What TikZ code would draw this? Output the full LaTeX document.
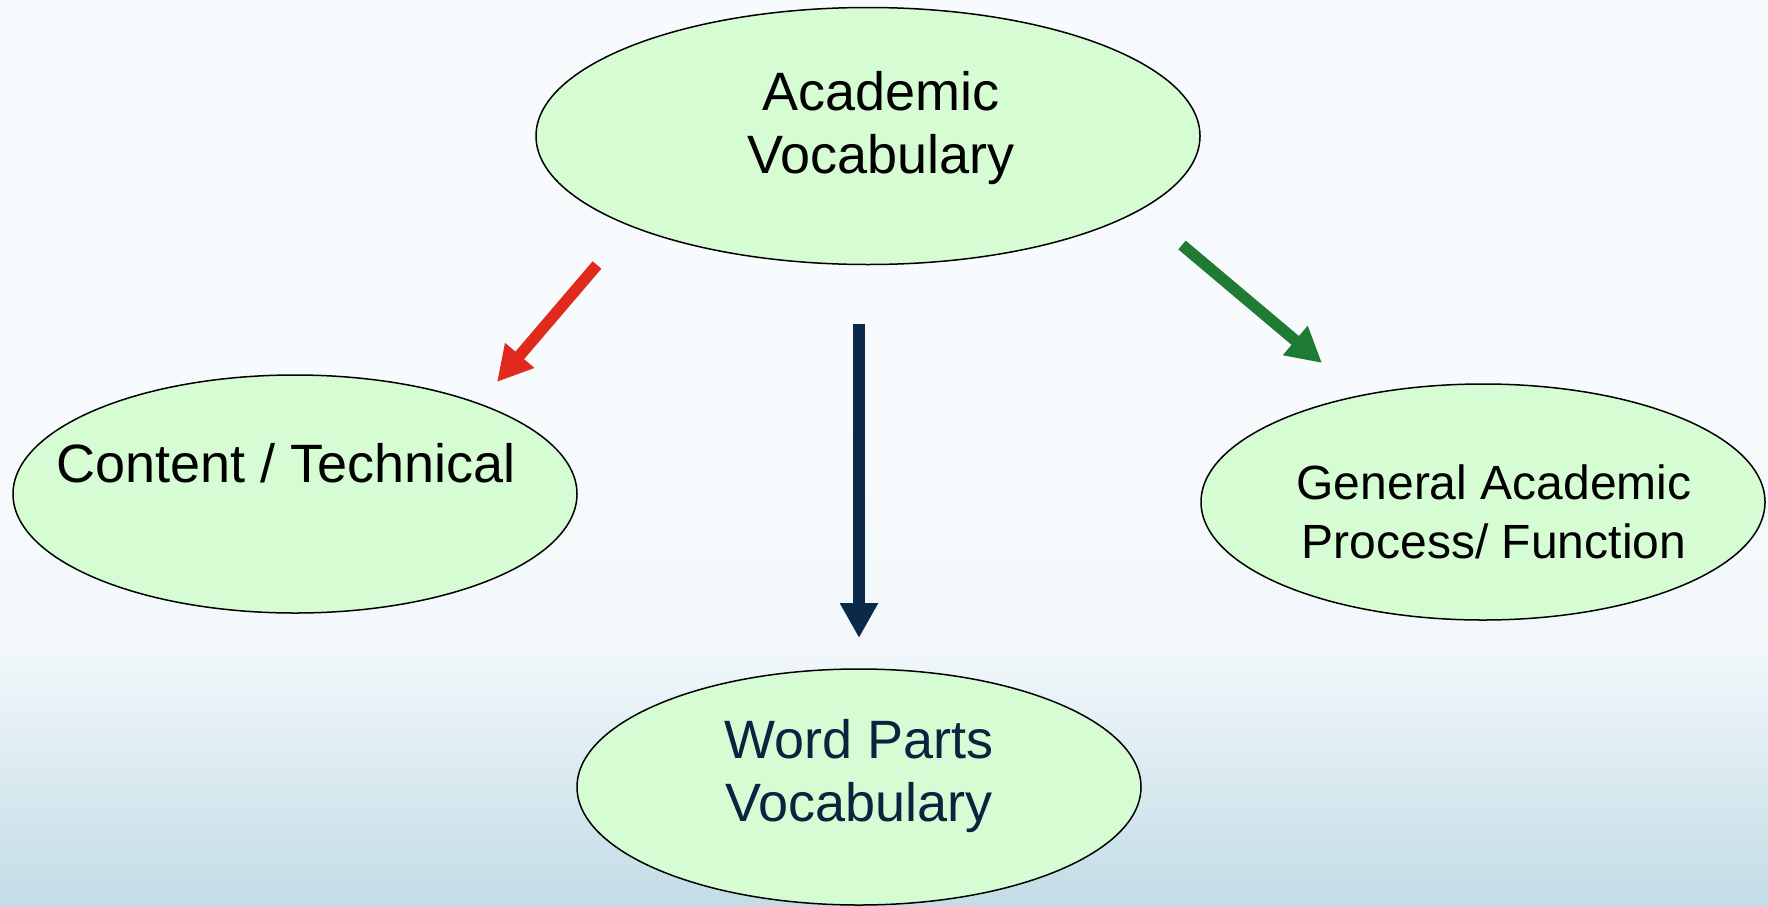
\documentclass[tikz,border=0pt]{standalone}
\usepackage{fontspec}
\setmainfont{Liberation Sans}
\usetikzlibrary{shapes.geometric,arrows.meta}
\definecolor{bgtop}{HTML}{F8FBFE}
\definecolor{bgmid}{HTML}{F1F7FA}
\definecolor{bgbot}{HTML}{C3DCE6}
\definecolor{ellfill}{HTML}{D5FCD3}
\definecolor{arrred}{HTML}{E1291E}
\definecolor{arrgreen}{HTML}{1F7A33}
\definecolor{arrnavy}{HTML}{0B2A4A}
\definecolor{navytext}{HTML}{0C2340}
\tikzset{
  bubble/.style={ellipse, draw=black, line width=1.5pt, fill=ellfill, inner sep=0pt},
  lbl/.style={align=center, inner sep=0pt, font=\fontsize{54}{63}\selectfont},
  bigarrow/.style={line width=11.5pt, -{Triangle[length=35pt,width=36pt]}}
}
\begin{document}
\begin{tikzpicture}[x=1pt,y=-1pt]
\useasboundingbox (0,0) rectangle (1768,905);
\fill[bgtop] (0,0) rectangle (1768,401);
\shade[top color=bgtop, bottom color=bgbot, middle color=bgmid] (0,400) rectangle (1768,905);
% ellipses
\node[bubble, minimum width=664pt, minimum height=257pt] (top) at (868,136) {};
\node[bubble, minimum width=564pt, minimum height=238pt] (left) at (295,494) {};
\node[bubble, minimum width=564pt, minimum height=236pt] (right) at (1483,502) {};
\node[bubble, minimum width=564pt, minimum height=236pt] (bottom) at (859,787) {};
% labels
\node[lbl] (toplbl) at (881,128) {Academic\\Vocabulary};
\node[lbl] (leftlbl) at (286,463) {Content / Technical};
\node[lbl, font=\fontsize{48}{59}\selectfont] (rightlbl) at (1494,512) {General Academic\\Process/ Function};
\node[lbl, text=navytext] (bottomlbl) at (859,776) {Word Parts\\Vocabulary};
% arrow ends
\coordinate (rs) at (597,265);
\coordinate (re) at (497,382);
\coordinate (gs) at (1182,245);
\coordinate (ge) at (1322,363);
\coordinate (ns) at (859,324);
\coordinate (ne) at (859,638);
\draw[bigarrow, draw=arrred, fill=arrred] (rs) -- (re);
\draw[bigarrow, draw=arrgreen, fill=arrgreen] (gs) -- (ge);
\draw[bigarrow, draw=arrnavy, fill=arrnavy] (ns) -- (ne);
\end{tikzpicture}
\end{document}
